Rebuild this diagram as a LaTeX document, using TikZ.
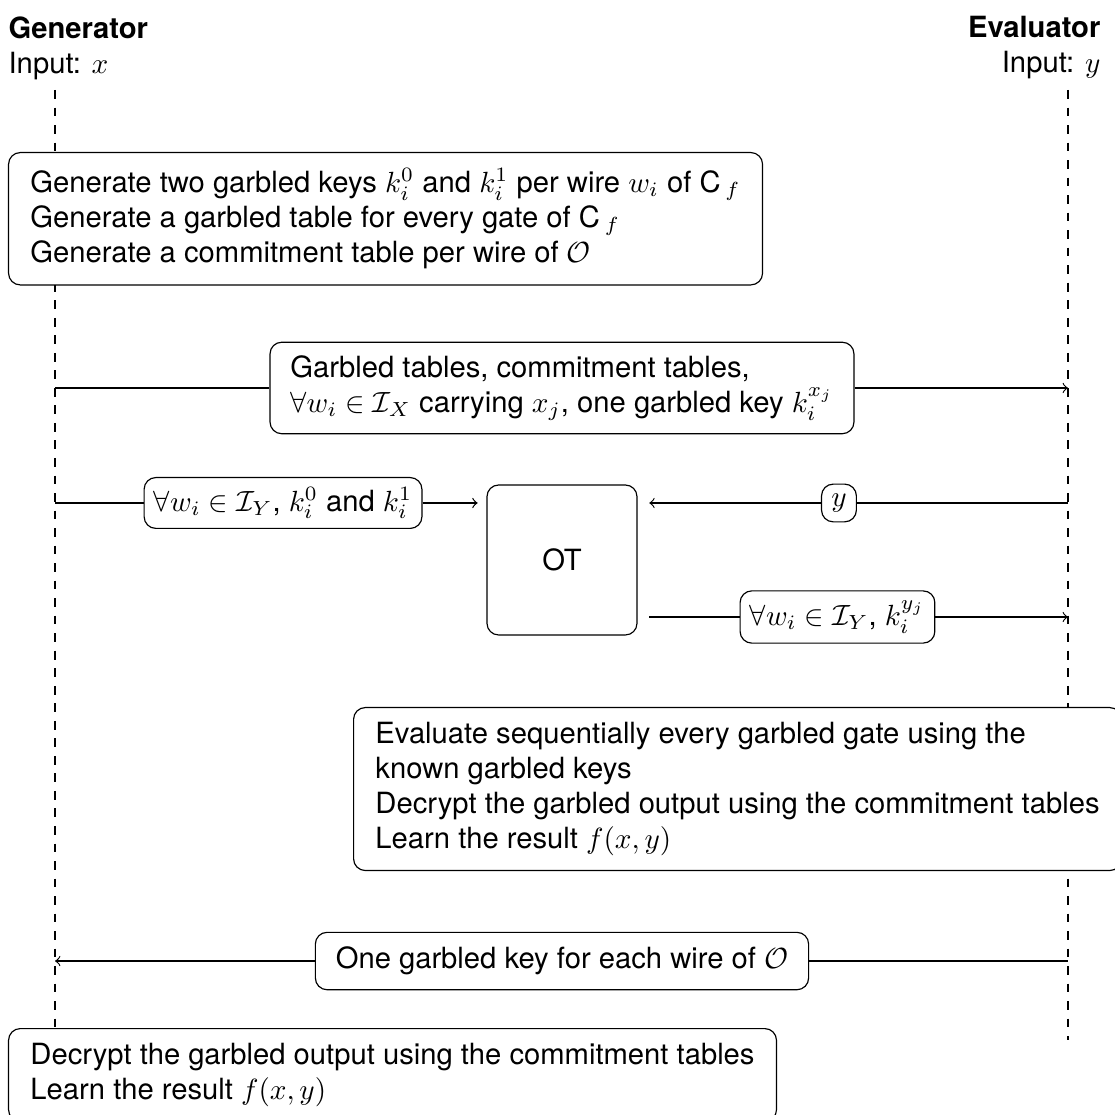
\documentclass[tikz,border=0pt]{standalone}
\usepackage{amsmath,amssymb}
\usepackage{fontspec}
\setmainfont{TeX Gyre Heros}
\usetikzlibrary{arrows}

\tikzset{
  lifeline/.style={dashed},
  action/.style={draw, rounded corners, fill=white, align=left, inner xsep=7.5pt, inner ysep=5pt},
  msg/.style={draw, rounded corners, fill=white, align=left},
}

\begin{document}
\begin{tikzpicture}
    \useasboundingbox (0,0) rectangle (13.406,-13.418);

    \node[inner sep=0pt, anchor=north west, align=left] (gen) at (0.096,-0.193) {\textbf{Generator}\\Input: $x$};
    \node[inner sep=0pt, anchor=north east, align=right] (eval) at (13.249,-0.193) {\textbf{Evaluator}\\Input: $y$};

    \coordinate (gtop) at (0.662,-1.083);
    \coordinate (gbot) at (0.662,-12.515);
    \coordinate (etop) at (12.852,-1.083);
    \coordinate (ebot) at (12.852,-12.515);
    \draw[lifeline] (gtop) -- (gbot);
    \draw[lifeline] (etop) -- (ebot);

    \node[action, inner ysep=5.5pt, anchor=north west] (gena) at (0.096,-1.829) {Generate two garbled keys $k_i^0$ and $k_i^1$ per wire $w_i$ of C\,$_f$\\ Generate a garbled table for every gate of C\,$_f$\\ Generate a commitment table per wire of $\mathcal{O}$};

    % garbled tables
    \coordinate (g1) at (0.662,-4.669);
    \coordinate (e1) at (12.852,-4.669);
    \node[action, inner xsep=7pt, inner ysep=4.5pt] (tabs) at (6.763,-4.669) {Garbled tables, commitment tables,\\ $\forall w_i \in \mathcal{I}_X$ carrying $x_j$, one garbled key $k_i^{x_j}$};
    \draw[->] (g1) -- (tabs) -- (e1);

    % oblivious transfer
    \node[draw, rounded corners, minimum size=1.805cm] (ot) at (6.763,-6.739) {OT};
    \coordinate (g2) at (0.662,-6.053);
    \coordinate (e2) at (12.852,-6.053);
    \coordinate (e3) at (12.852,-7.425);
    \node[msg] (keys) at (3.406,-6.053) {$\forall w_i \in \mathcal{I}_Y$, $k_i^0$ and $k_i^1$};
    \node[msg] (choice) at (10.096,-6.053) {$y$};
    \node[msg] (outk) at (10.078,-7.425) {$\forall w_i \in \mathcal{I}_Y$, $k_i^{y_j}$};
    \draw[->, shorten >=3pt] (g2) -- (keys) -- (g2 -| ot.west);
    \draw[->, shorten >=4pt] (e2) -- (choice) -- (e2 -| ot.east);
    \draw[shorten <=4pt] (e3 -| ot.east) -- (outk);
    \draw[->] (outk) -- (e3);

    \node[action, anchor=north west] (evala) at (4.248,-8.508) {Evaluate sequentially every garbled gate using the\\ known garbled keys\\ Decrypt the garbled output using the commitment tables\\ Learn the result $f(x,y)$};

    % output keys back
    \coordinate (g4) at (0.662,-11.565);
    \coordinate (e4) at (12.852,-11.565);
    \node[action, inner xsep=7pt] (ret) at (6.763,-11.565) {One garbled key for each wire of $\mathcal{O}$};
    \draw[->] (e4) -- (ret) -- (g4);

    \node[action, anchor=north west] (fin) at (0.096,-12.371) {Decrypt the garbled output using the commitment tables\\ Learn the result $f(x,y)$};
\end{tikzpicture}
\end{document}
